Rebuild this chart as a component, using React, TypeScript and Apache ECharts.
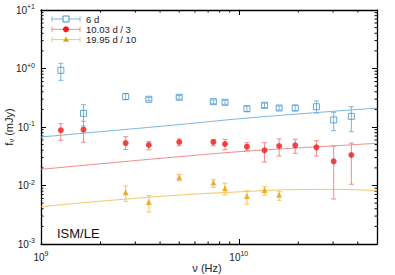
import React, { useEffect, useRef } from 'react';
import * as echarts from 'echarts';

// Observed frequencies (GHz)
const freqGHz = [1.26, 1.64, 2.68, 3.51, 5.0, 7.44, 8.52, 11.0, 13.5, 16.0, 19.3, 24.7, 30.2, 37.1];
// 6 d (mJy)
const blueVals = [0.931, 0.171, 0.33, 0.298, 0.322, 0.271, 0.264, 0.205, 0.235, 0.211, 0.211, 0.222, 0.132, 0.152];
const blueLo = [0.628, 0.104, 0.295, 0.28, 0.3, 0.25, 0.245, 0.185, 0.215, 0.195, 0.19, 0.173, 0.0865, 0.0831];
const blueHi = [1.227, 0.24, 0.374, 0.318, 0.345, 0.29, 0.285, 0.228, 0.255, 0.228, 0.235, 0.278, 0.178, 0.222];
// 10.03 d / 3
const redVals = [0.0879, 0.0899, 0.0532, 0.0492, 0.0554, 0.0554, 0.0512, 0.0461, 0.04, 0.0473, 0.0486, 0.045, 0.0259, 0.0332];
const redLo = [0.0593, 0.0548, 0.0412, 0.0409, 0.0478, 0.0478, 0.0409, 0.0394, 0.0252, 0.0319, 0.0355, 0.0319, 0.00588, 0.0105];
const redHi = [0.1138, 0.125, 0.0683, 0.0561, 0.0624, 0.0607, 0.0616, 0.0539, 0.0539, 0.0624, 0.0616, 0.0583, 0.0473, 0.0532];
// 19.95 d / 10
const yellowFreqGHz = [2.68, 3.51, 5.0, 7.44, 8.52, 11.0, 13.5, 16.0];
const yellowVals = [0.00765, 0.00522, 0.0138, 0.0112, 0.00895, 0.00662, 0.00837, 0.00697];
const yellowLo = [0.00537, 0.00352, 0.0119, 0.00931, 0.00697, 0.00477, 0.00688, 0.00558];
const yellowHi = [0.0098, 0.00674, 0.0155, 0.01256, 0.01091, 0.00815, 0.00953, 0.00784];
// Model curves
const modelFreqGHz = [1, 2, 5, 10, 20, 30, 50];
const blueModel = [0.0675, 0.0831, 0.11, 0.138, 0.167, 0.1854, 0.211];
const redModel = [0.0189, 0.0235, 0.0311, 0.0378, 0.0439, 0.0475, 0.0527];
const yellowModel = [0.00434, 0.00539, 0.00685, 0.00778, 0.00851, 0.00858, 0.00815];

const legendLabels = ['6 d', '10.03 d / 3', '19.95 d / 10'];
const xTitle = 'ν (Hz)';
const yTitle = '{a|f}{sub|ν}{a| (mJy)}';

const BLUE = '#3d93cc';
const BLUE_L = '#7ab6de';
const RED = '#ee1c1c';
const RED_L = '#f28a8a';
const YEL = '#e8a010';
const YEL_L = '#f3c766';

const X_MIN = 1e9;
const X_MAX = 5e10;
const Y_MIN = 1e-3;
const Y_MAX = 10;

function expLabel(v: number, plus: boolean) {
  const l = Math.log10(v);
  const e = Math.round(l);
  if (Math.abs(l - e) > 1e-6) return '';
  const s = e >= 0 && plus ? '+' + e : '' + e;
  return `{b|10}{s|${s}}`;
}

const richLabel = {
  b: { fontSize: 10, lineHeight: 14, color: '#222', fontFamily: 'Liberation Sans' },
  s: { fontSize: 7, lineHeight: 8, verticalAlign: 'top', color: '#222', fontFamily: 'Liberation Sans' },
};

function errSeries(fr: number[], lo: number[], hi: number[], color: string) {
  return {
    type: 'custom',
    xAxisIndex: 0,
    yAxisIndex: 0,
    z: 2,
    silent: true,
    encode: { x: 0, y: [1, 2] },
    data: fr.map((f, i) => [f * 1e9, lo[i], hi[i]]),
    renderItem: (params: any, api: any) => {
      const x = api.value(0);
      const p1 = api.coord([x, api.value(1)]);
      const p2 = api.coord([x, api.value(2)]);
      const w = 2.5;
      const st = { stroke: color, lineWidth: 1 };
      return {
        type: 'group',
        children: [
          { type: 'line', shape: { x1: p1[0], y1: p1[1], x2: p2[0], y2: p2[1] }, style: st },
          { type: 'line', shape: { x1: p1[0] - w, y1: p1[1], x2: p1[0] + w, y2: p1[1] }, style: st },
          { type: 'line', shape: { x1: p2[0] - w, y1: p2[1], x2: p2[0] + w, y2: p2[1] }, style: st },
        ],
      };
    },
  };
}

function minorTickData() {
  const d: number[][] = [];
  for (let k = 9; k <= 10; k++) {
    for (let m = 2; m <= 9; m++) {
      const v = m * Math.pow(10, k);
      if (v < X_MAX) d.push([v, Y_MIN, 0]);
    }
  }
  for (let k = -3; k <= 0; k++) {
    for (let m = 2; m <= 9; m++) {
      d.push([X_MIN, m * Math.pow(10, k), 1]);
    }
  }
  return d;
}

export default function App() {
  const ref = useRef<HTMLDivElement>(null);
  useEffect(() => {
    if (!ref.current) return;
    const chart = echarts.init(ref.current, undefined, { renderer: 'svg' });
    const legendRows = [
      { color: BLUE_L, mk: 'rect' },
      { color: RED_L, mk: 'circle' },
      { color: YEL_L, mk: 'tri' },
    ];
    const els: any[] = [];
    legendRows.forEach((r, i) => {
      const y = 19 + i * 10.3;
      const x1 = 52, x2 = 80, xm = 66;
      els.push({ type: 'line', shape: { x1, y1: y, x2, y2: y }, style: { stroke: r.color, lineWidth: 1 } });
      els.push({ type: 'line', shape: { x1, y1: y - 2.5, x2: x1, y2: y + 2.5 }, style: { stroke: r.color, lineWidth: 1 } });
      els.push({ type: 'line', shape: { x1: x2, y1: y - 2.5, x2, y2: y + 2.5 }, style: { stroke: r.color, lineWidth: 1 } });
      if (r.mk === 'rect') {
        els.push({ type: 'rect', shape: { x: xm - 3, y: y - 3, width: 6, height: 6 }, style: { fill: '#fff', stroke: BLUE, lineWidth: 1 } });
      } else if (r.mk === 'circle') {
        els.push({ type: 'circle', shape: { cx: xm, cy: y, r: 3 }, style: { fill: RED } });
      } else {
        els.push({ type: 'polygon', shape: { points: [[xm, y - 3], [xm + 3, y + 2.2], [xm - 3, y + 2.2]] }, style: { fill: YEL } });
      }
      els.push({
        type: 'text', x: 86, y, style: { text: legendLabels[i], fontSize: 9.5, fill: '#222', fontFamily: 'Liberation Sans', verticalAlign: 'middle' },
      });
    });
    els.push({
      type: 'text', x: 57, y: 233.5,
      style: { text: 'ISM/LE', fontSize: 13, fill: '#111', fontFamily: 'Liberation Sans', verticalAlign: 'middle' },
    });
    // axis titles
    els.push({
      type: 'text', x: 207, y: 267.5,
      style: { text: xTitle, fontSize: 11, fill: '#222', fontFamily: 'Liberation Sans', align: 'center', verticalAlign: 'middle' },
    });
    els.push({
      type: 'text', x: 8.5, y: 127, rotation: Math.PI / 2,
      style: {
        text: yTitle, align: 'center', verticalAlign: 'middle',
        rich: {
          a: { fontSize: 11, fill: '#222', fontFamily: 'Liberation Sans', lineHeight: 14 },
          sub: { fontSize: 7.5, fill: '#222', fontFamily: 'Liberation Sans', verticalAlign: 'bottom', lineHeight: 8 },
        },
      },
    });

    const axisLineStyle = { color: '#000', width: 1.3 };
    const option: any = {
      animation: false,
      backgroundColor: '#fff',
      grid: { left: 41, top: 10, right: 18, bottom: 31, containLabel: false, outerBoundsMode: 'none' },
      xAxis: [
        {
          type: 'log', logBase: 10, min: X_MIN, max: X_MAX, position: 'bottom',
          axisLine: { show: true, lineStyle: axisLineStyle },
          axisTick: { show: true, inside: true, length: 5, lineStyle: { color: '#000' } },
          splitLine: { show: false },
          axisLabel: { formatter: (v: number) => expLabel(v, false), rich: richLabel, margin: 6 },
        },
        {
          type: 'log', logBase: 10, min: X_MIN, max: X_MAX, position: 'top',
          axisLine: { show: true, lineStyle: axisLineStyle },
          axisTick: { show: true, inside: true, length: 5, lineStyle: { color: '#000' } },
          splitLine: { show: false },
          axisLabel: { show: false },
        },
      ],
      yAxis: [
        {
          type: 'log', logBase: 10, min: Y_MIN, max: Y_MAX, position: 'left',
          axisLine: { show: true, lineStyle: axisLineStyle },
          axisTick: { show: true, inside: true, length: 5, lineStyle: { color: '#000' } },
          splitLine: { show: false },
          axisLabel: { formatter: (v: number) => expLabel(v, true), rich: richLabel, margin: 6 },
        },
        {
          type: 'log', logBase: 10, min: Y_MIN, max: Y_MAX, position: 'right',
          axisLine: { show: true, lineStyle: axisLineStyle },
          axisTick: { show: true, inside: true, length: 5, lineStyle: { color: '#000' } },
          splitLine: { show: false },
          axisLabel: { show: false },
        },
      ],
      graphic: els,
      series: [
        {
          type: 'custom', silent: true, z: 1,
          data: minorTickData(),
          encode: { x: 0, y: 1 },
          renderItem: (params: any, api: any) => {
            const cs = params.coordSys;
            const p = api.coord([api.value(0), api.value(1)]);
            const L = 2.5;
            const st = { stroke: '#000', lineWidth: 1 };
            if (api.value(2) === 0) {
              return {
                type: 'group', children: [
                  { type: 'line', shape: { x1: p[0], y1: cs.y + cs.height, x2: p[0], y2: cs.y + cs.height - L }, style: st },
                  { type: 'line', shape: { x1: p[0], y1: cs.y, x2: p[0], y2: cs.y + L }, style: st },
                ],
              };
            }
            return {
              type: 'group', children: [
                { type: 'line', shape: { x1: cs.x, y1: p[1], x2: cs.x + L, y2: p[1] }, style: st },
                { type: 'line', shape: { x1: cs.x + cs.width, y1: p[1], x2: cs.x + cs.width - L, y2: p[1] }, style: st },
              ],
            };
          },
        },
        {
          type: 'line', smooth: true, showSymbol: false, silent: true, z: 1,
          data: modelFreqGHz.map((f, i) => [f * 1e9, blueModel[i]]),
          lineStyle: { color: BLUE_L, width: 1 },
        },
        {
          type: 'line', smooth: true, showSymbol: false, silent: true, z: 1,
          data: modelFreqGHz.map((f, i) => [f * 1e9, redModel[i]]),
          lineStyle: { color: RED_L, width: 1 },
        },
        {
          type: 'line', smooth: true, showSymbol: false, silent: true, z: 1,
          data: modelFreqGHz.map((f, i) => [f * 1e9, yellowModel[i]]),
          lineStyle: { color: YEL_L, width: 1 },
        },
        errSeries(freqGHz, blueLo, blueHi, BLUE_L),
        errSeries(freqGHz, redLo, redHi, RED_L),
        errSeries(yellowFreqGHz, yellowLo, yellowHi, YEL_L),
        {
          type: 'scatter', z: 3, symbol: 'rect', symbolSize: 6, silent: true,
          data: freqGHz.map((f, i) => [f * 1e9, blueVals[i]]),
          itemStyle: { color: 'rgba(255,255,255,0)', borderColor: BLUE, borderWidth: 1 },
        },
        {
          type: 'scatter', z: 3, symbol: 'circle', symbolSize: 6, silent: true,
          data: freqGHz.map((f, i) => [f * 1e9, redVals[i]]),
          itemStyle: { color: RED },
        },
        {
          type: 'scatter', z: 3, symbol: 'triangle', symbolSize: 6, silent: true,
          data: yellowFreqGHz.map((f, i) => [f * 1e9, yellowVals[i]]),
          itemStyle: { color: YEL },
        },
      ],
    };
    chart.setOption(option);
    return () => chart.dispose();
  }, []);
  return <div ref={ref} style={{ position: 'fixed', left: 0, top: 0, width: 395, height: 275, background: '#fff' }} />;
}
